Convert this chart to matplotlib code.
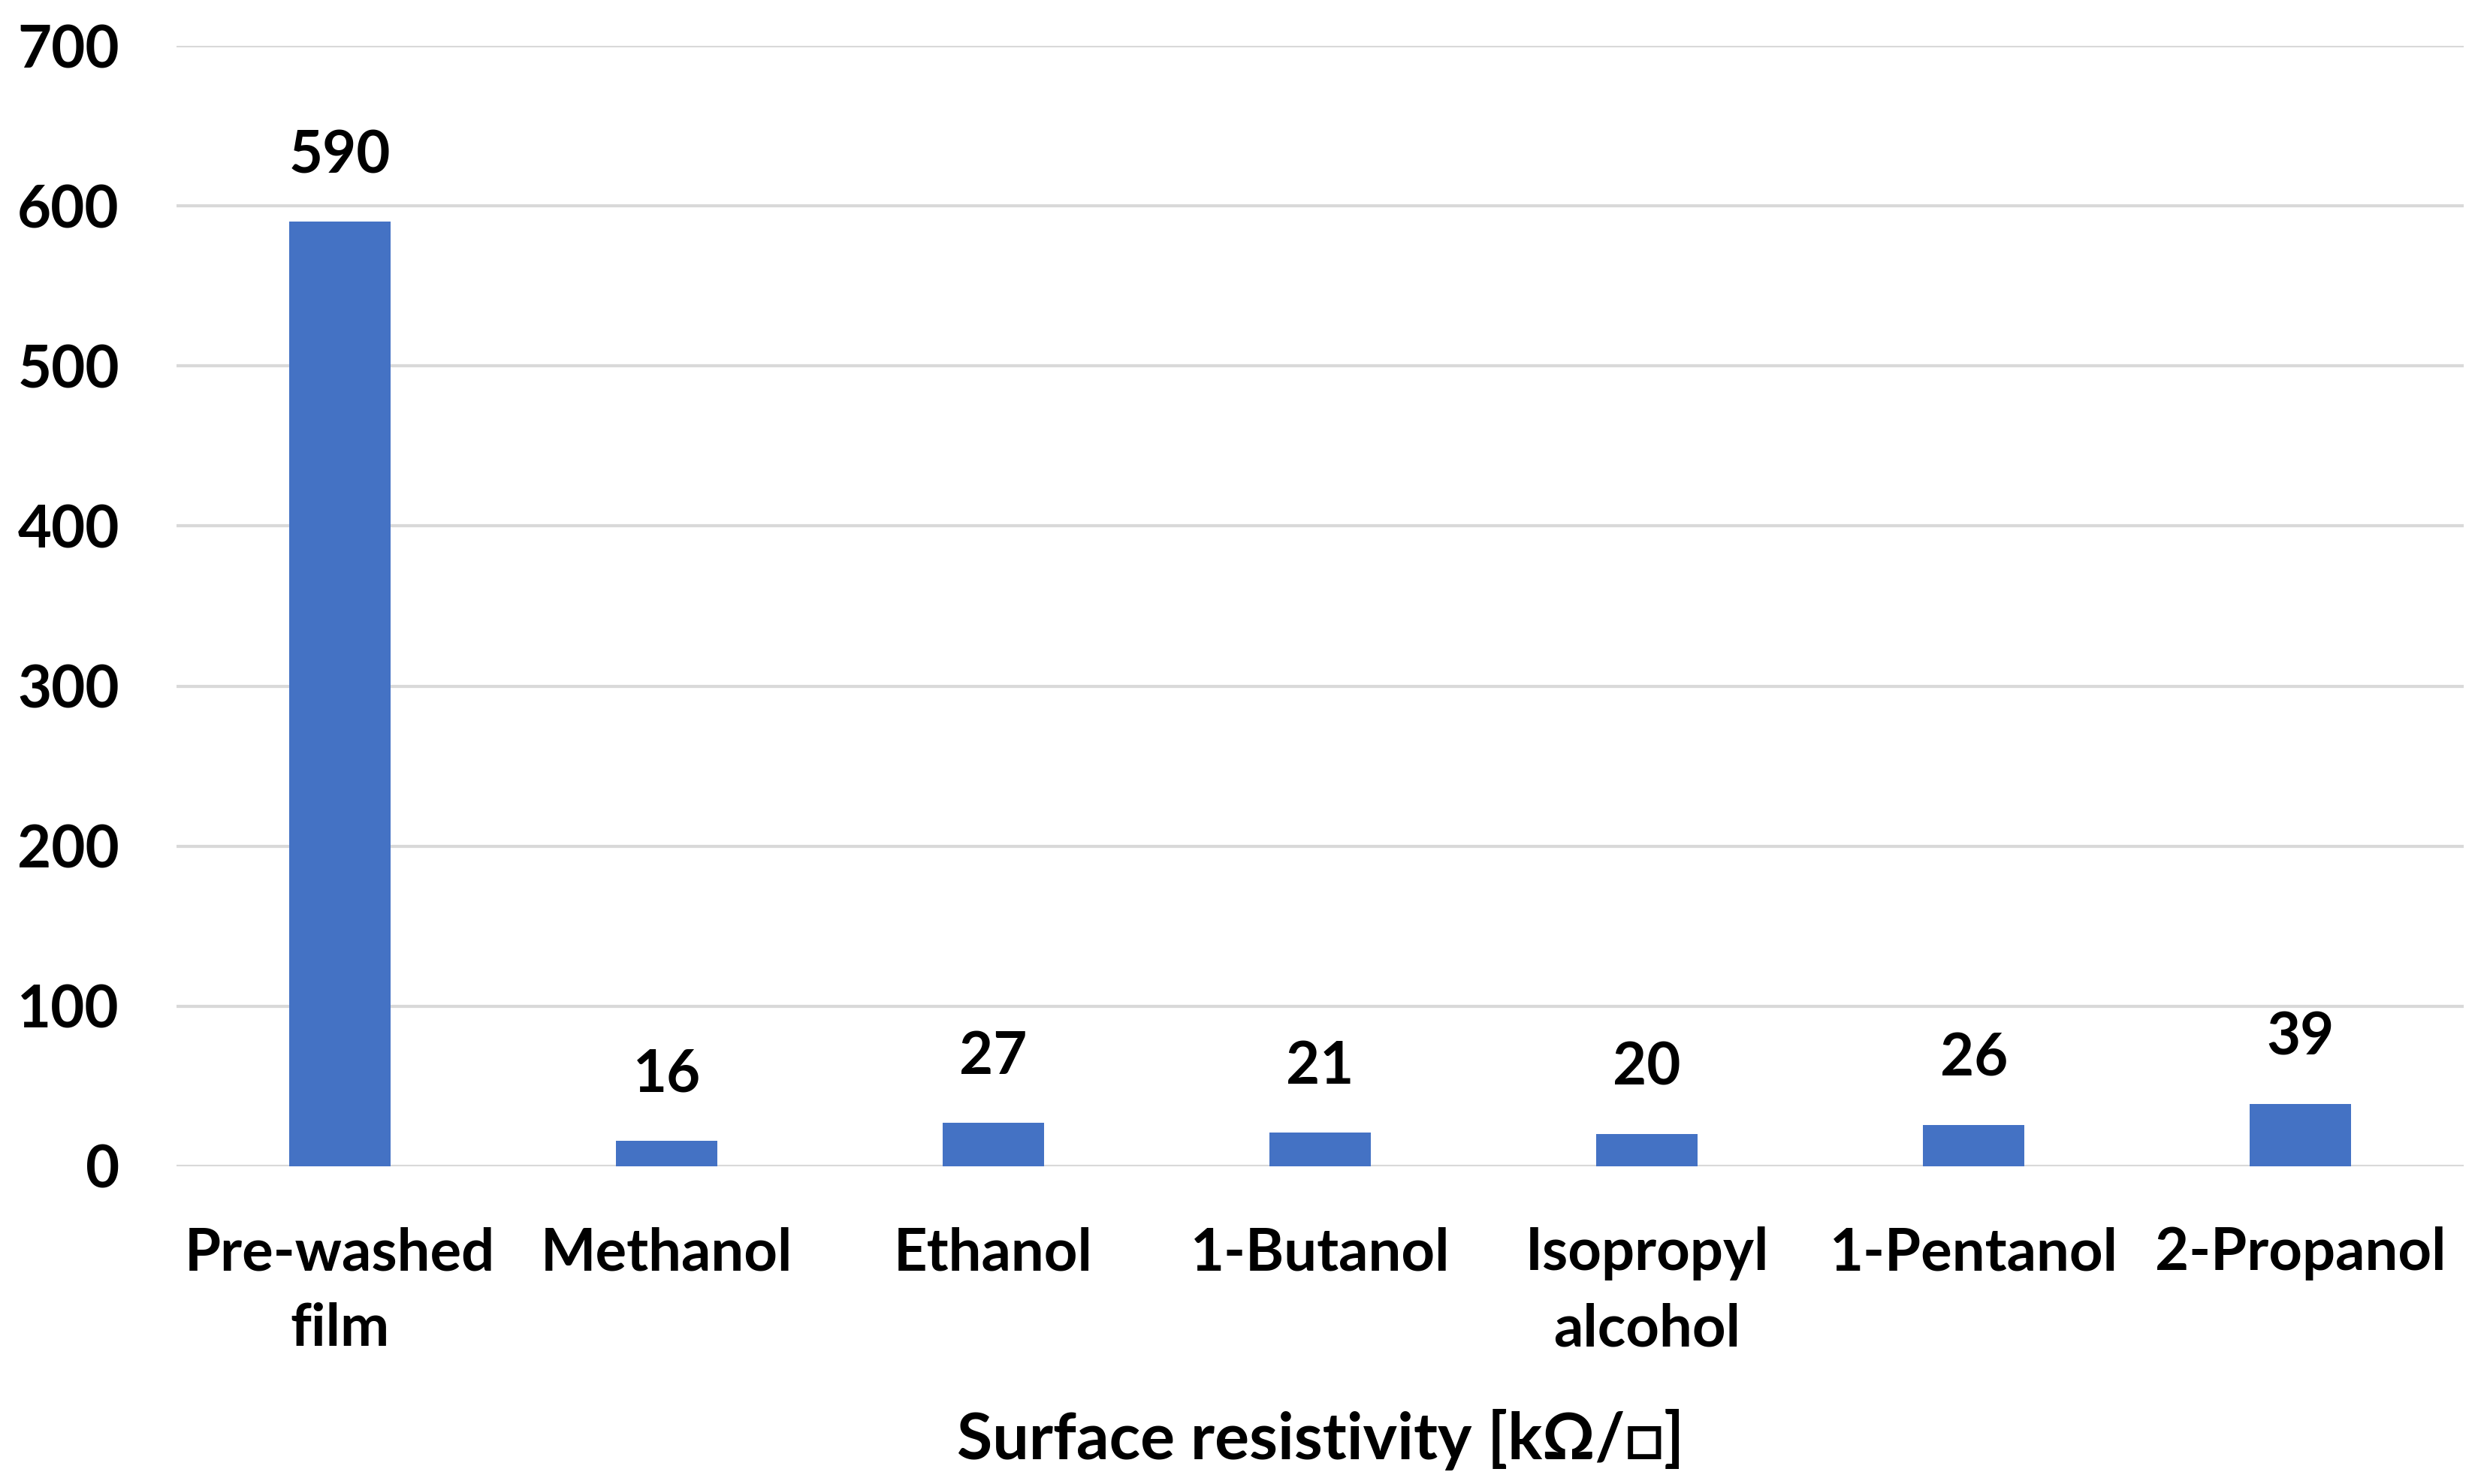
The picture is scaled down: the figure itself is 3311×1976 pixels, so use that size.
import matplotlib
matplotlib.use("Agg")
import matplotlib.pyplot as plt

categories = ["Pre-washed\nfilm", "Methanol", "Ethanol", "1-Butanol",
              "Isopropyl\nalcohol", "1-Pentanol", "2-Propanol"]
values = [590, 16, 27, 21, 20, 26, 39]
yticks = [0, 100, 200, 300, 400, 500, 600, 700]
xlabel = "Surface resistivity [kΩ/□]"

plt.rcParams['font.family'] = ['Lato', 'DejaVu Sans']
plt.rcParams['font.weight'] = 'bold'

fig = plt.figure(figsize=(33.12, 19.76), dpi=100)
ax = fig.add_axes([0.0710, 0.2141, 0.9194, 0.7550])

x = list(range(len(categories)))
ax.bar(x, values, width=0.31, color="#4472C4", zorder=3)
for xi, v in zip(x, values):
    ax.annotate(str(v), (xi, v), xytext=(0, 37), textcoords="offset points",
                ha="center", va="bottom", fontsize=56, fontweight="bold")

ax.set_xlim(-0.5, len(categories) - 0.5)
ax.set_ylim(0, 700)
ax.set_yticks(yticks)
ax.set_yticklabels([str(t) for t in yticks], fontsize=56, fontweight="bold")
ax.set_xticks(x)
ax.set_xticklabels(categories, fontsize=56, fontweight="bold", linespacing=1.5)
ax.tick_params(axis="both", length=0)
ax.tick_params(axis="y", pad=55)
ax.tick_params(axis="x", pad=58)
ax.yaxis.grid(True, color="#d9d9d9", linewidth=3, zorder=0)
ax.set_axisbelow(True)
for s in ax.spines.values():
    s.set_visible(False)
ax.set_xlabel(xlabel, fontsize=62, fontweight="bold")
ax.xaxis.set_label_coords(0.5, -0.244)
ax.xaxis.label.set_va("center")

fig.savefig("out.png", dpi=100, facecolor="white")
